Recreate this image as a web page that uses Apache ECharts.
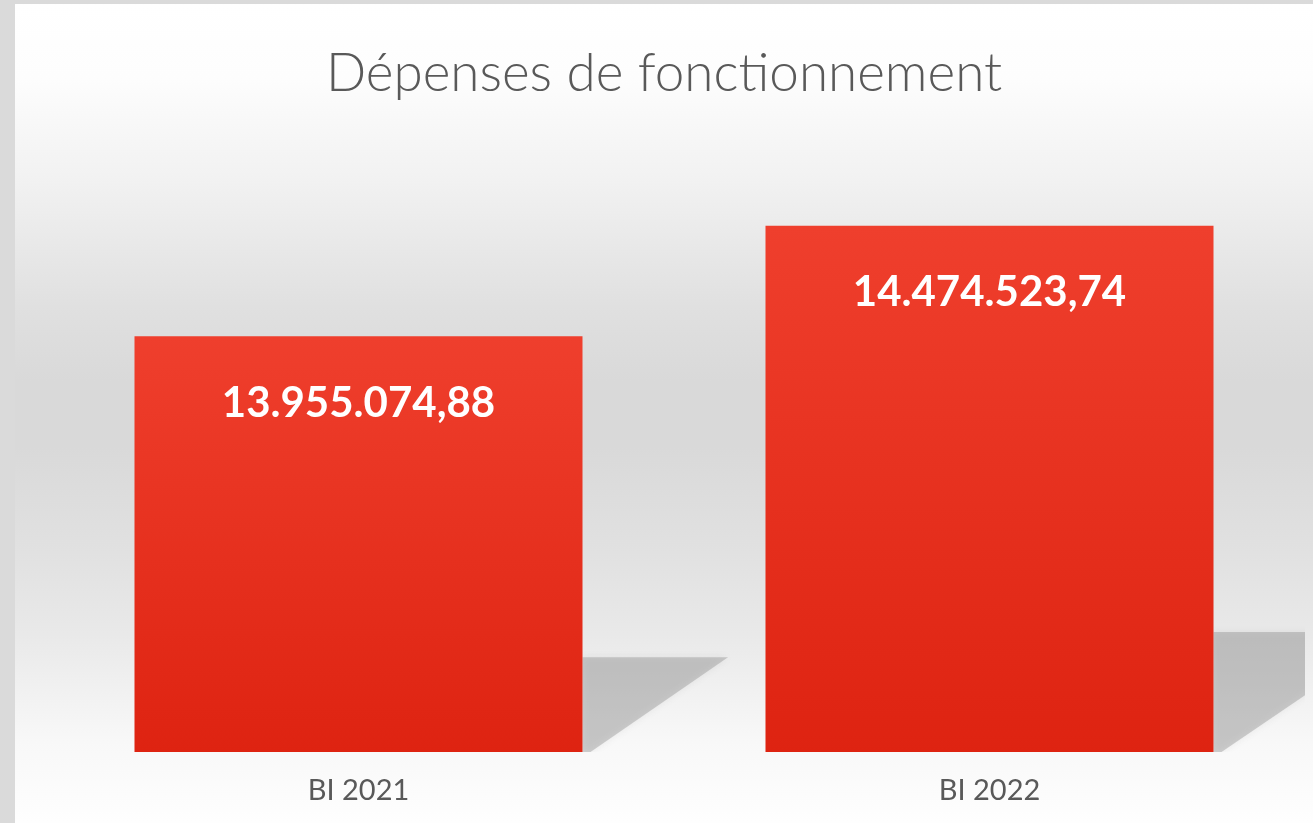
<!DOCTYPE html>
<html>
<head>
<meta charset="utf-8">
<script src="https://cdn.jsdelivr.net/npm/echarts@6/dist/echarts.min.js"></script>
<style>
html,body{margin:0;padding:0;background:#dadada;width:1313px;height:823px;overflow:hidden;}
#chart{position:absolute;left:15px;top:4px;width:1298px;height:819px;}
</style>
</head>
<body>
<div id="chart"></div>
<script>
const titleText = 'Dépenses de fonctionnement';
const categories = ['BI 2021', 'BI 2022'];
const values = [13955074.88, 14474523.74];
const labelsText = ['13.955.074,88', '14.474.523,74'];
const yMin = 12000000;
const yMax = 15000000;

const chart = echarts.init(document.getElementById('chart'));
const barFrac = 0.71;

chart.setOption({
  animation: false,
  backgroundColor: {
    type: 'linear', x: 0, y: 0, x2: 0, y2: 1,
    colorStops: [
      {offset: 0, color: '#ffffff'},
      {offset: 0.09, color: '#fdfdfd'},
      {offset: 0.22, color: '#f1f1f1'},
      {offset: 0.37, color: '#e0e0e0'},
      {offset: 0.46, color: '#d9d9d9'},
      {offset: 0.54, color: '#d9d9d9'},
      {offset: 0.67, color: '#e1e1e1'},
      {offset: 0.77, color: '#e9e9e9'},
      {offset: 0.9, color: '#f8f8f8'},
      {offset: 1, color: '#fefefe'}
    ]
  },
  title: {
    text: titleText,
    left: 'center',
    top: 38,
    textStyle: {fontFamily: 'Lato', fontWeight: 300, fontSize: 53, color: '#595959'}
  },
  grid: {left: 28, right: 8, top: 110, bottom: 71, containLabel: false},
  xAxis: {
    type: 'category',
    data: categories,
    axisLine: {show: false},
    axisTick: {show: false},
    axisLabel: {fontFamily: 'Lato', fontSize: 29, color: '#595959', margin: 24}
  },
  yAxis: {
    type: 'value', min: yMin, max: yMax,
    show: false,
    splitLine: {show: false}
  },
  series: [
    {
      type: 'custom',
      z: 1,
      clip: true,
      data: values.map((v, i) => [i, v]),
      renderItem: function (params, api) {
        const idx = api.value(0);
        const top = api.coord([idx, api.value(1)]);
        const bot = api.coord([idx, yMin]);
        const half = api.size([1, 0])[0] * barFrac / 2;
        const h = bot[1] - top[1];
        const xr = bot[0] + half;
        const ys = bot[1] - 0.228 * h;
        return {
          type: 'polygon',
          shape: {points: [[xr, ys], [xr + 0.35 * h, ys], [xr + 8, bot[1]], [xr, bot[1]]]},
          style: {fill: 'rgba(120,120,120,0.33)', shadowBlur: 7, shadowColor: 'rgba(120,120,120,0.33)'}
        };
      }
    },
    {
      type: 'bar',
      z: 2,
      data: values,
      barCategoryGap: '29%',
      itemStyle: {
        color: {
          type: 'linear', x: 0, y: 0, x2: 0, y2: 1,
          colorStops: [{offset: 0, color: '#ef3f2d'}, {offset: 1, color: '#de2311'}]
        }
      },
      label: {
        show: true,
        position: 'insideTop',
        distance: 46,
        formatter: function (p) { return labelsText[p.dataIndex]; },
        fontFamily: 'Lato',
        fontWeight: 'bold',
        fontSize: 42,
        color: '#ffffff'
      }
    }
  ]
});
</script>
</body>
</html>
